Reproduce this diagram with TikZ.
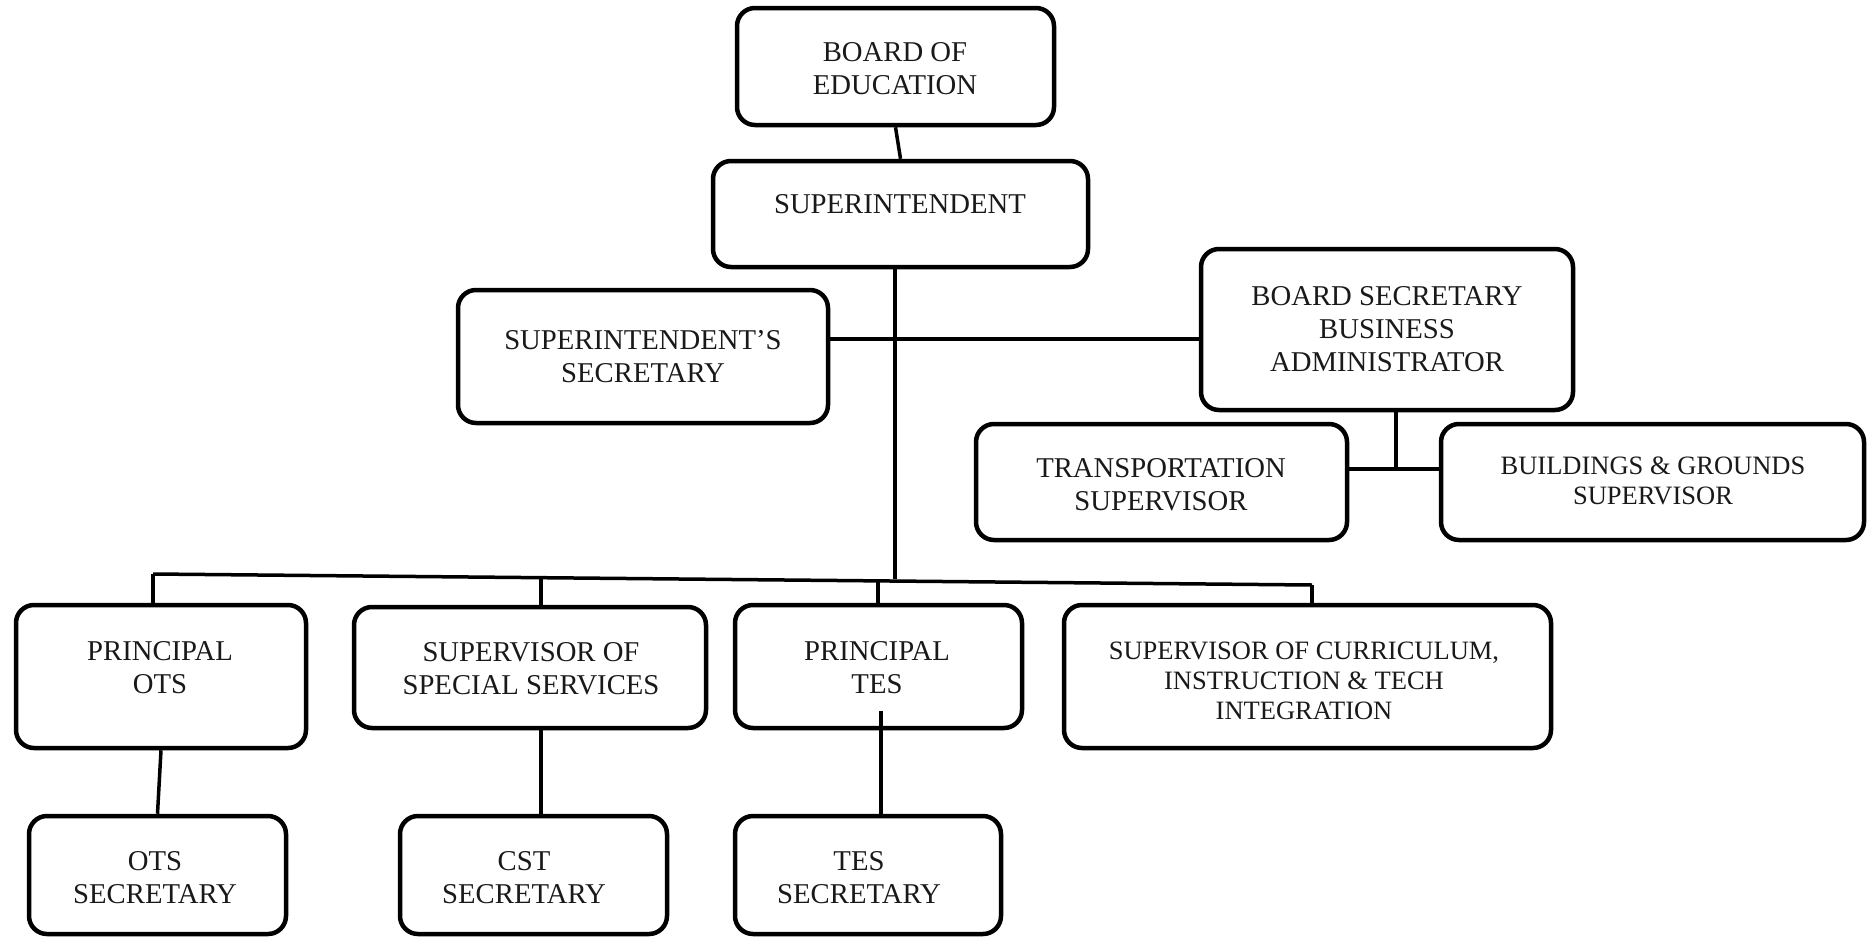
\documentclass[tikz,border=0pt]{standalone}
\usepackage{fontspec}
\setmainfont{Liberation Serif}
\tikzset{
  box/.style={draw, line width=4.5pt, rounded corners=18pt, inner sep=0pt},
  txt/.style={align=center, font=\fontsize{28.7}{33}\selectfont, inner sep=0pt, text=black!90},
  stxt/.style={txt, font=\fontsize{26.5}{30}\selectfont},
  link/.style={line width=3.5pt},
}
\begin{document}
\begin{tikzpicture}[x=1pt,y=-1pt]
\useasboundingbox (0,0) rectangle (1874,937);
% boxes
\node[box, minimum width=317pt, minimum height=117pt] (board) at (895.5,66.5) {};
\node[box, minimum width=375pt, minimum height=106pt] (super) at (900.5,214) {};
\node[box, minimum width=370pt, minimum height=133pt] (supsec) at (643,356.5) {};
\node[box, minimum width=372pt, minimum height=161pt] (bsba) at (1387,329.5) {};
\node[box, minimum width=371pt, minimum height=116pt] (trans) at (1161.5,482) {};
\node[box, minimum width=423pt, minimum height=116pt] (build) at (1652.5,482) {};
\node[box, minimum width=290pt, minimum height=143pt] (pots) at (161,676.5) {};
\node[box, minimum width=352pt, minimum height=121pt] (sss) at (530,667.5) {};
\node[box, minimum width=287pt, minimum height=123pt] (ptes) at (878.5,666.5) {};
\node[box, minimum width=487pt, minimum height=143pt] (curric) at (1307.5,676.5) {};
\node[box, minimum width=257pt, minimum height=118pt] (otssec) at (157.5,875) {};
\node[box, minimum width=267pt, minimum height=118pt] (cstsec) at (533.5,875) {};
\node[box, minimum width=266pt, minimum height=118pt] (tessec) at (868,875) {};
% texts
\node[txt] (tBoard) at (895,69) {BOARD OF\\EDUCATION};
\node[txt] (tSuper) at (900,204) {SUPERINTENDENT};
\node[txt] (tSupSec) at (643,357) {SUPERINTENDENT’S\\SECRETARY};
\node[txt] (tBsba) at (1387,329) {BOARD SECRETARY\\BUSINESS\\ADMINISTRATOR};
\node[txt] (tTrans) at (1161,485) {TRANSPORTATION\\SUPERVISOR};
\node[stxt] (tBuild) at (1653,481) {BUILDINGS \& GROUNDS\\SUPERVISOR};
\node[txt] (tPots) at (160,668) {PRINCIPAL\\OTS};
\node[txt] (tSss) at (531,669) {SUPERVISOR OF\\SPECIAL SERVICES};
\node[txt] (tPtes) at (877,668) {PRINCIPAL\\TES};
\node[stxt] (tCur) at (1304,681) {SUPERVISOR OF CURRICULUM,\\INSTRUCTION \& TECH\\INTEGRATION};
\node[txt] (tOts) at (155,878) {OTS\\SECRETARY};
\node[txt] (tCst) at (524,878) {CST\\SECRETARY};
\node[txt] (tTes) at (859,878) {TES\\SECRETARY};
% connector points
\coordinate (hub) at (895,339);
\coordinate (barC) at (895,579);
\coordinate (barL) at (153,574);
\coordinate (barR) at (1312,585);
\coordinate (dS) at (541,577);
\coordinate (dT) at (878,581);
\coordinate (bj) at (1396,469);
\coordinate (tin) at (881,711);
% connectors
\draw[link] (board.south) -- (super.north);
\draw[link] (super.south -| hub) -- (barC);
\draw[link] (supsec.east |- hub) -- (hub) -- (hub -| bsba.west);
\draw[link] (bj |- bsba.south) -- (bj);
\draw[link] (trans.east |- bj) -- (build.west |- bj);
\draw[link] (barL) -- (barR);
\draw[link] (barL) -- (barL |- pots.north);
\draw[link] (dS) -- (dS |- sss.north);
\draw[link] (dT) -- (dT |- ptes.north);
\draw[link] (barR) -- (barR |- curric.north);
\draw[link] (pots.south) -- (otssec.north);
\draw[link] (sss.south -| dS) -- (cstsec.north -| dS);
\draw[link] (tin) -- (tin |- tessec.north);
\end{tikzpicture}
\end{document}
